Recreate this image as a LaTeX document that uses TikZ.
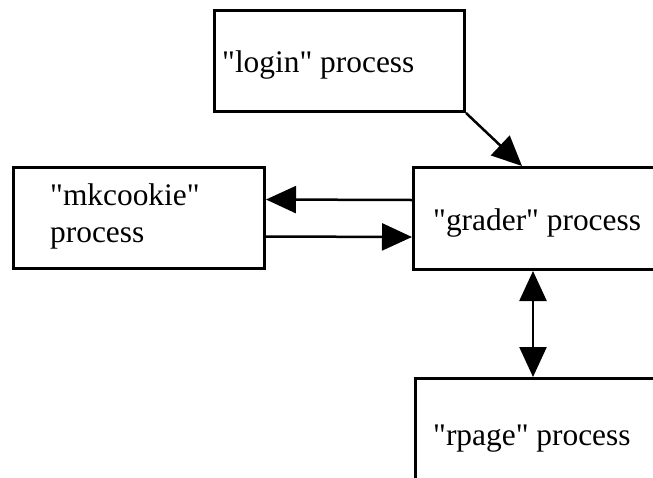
\documentclass[tikz,border=0pt]{standalone}
\usepackage{fontspec}
\setmainfont{Liberation Serif}
\usetikzlibrary{arrows.meta,calc}
% straight double quote, taken directly from the font's glyph table
\newcommand{\dq}{\XeTeXglyph\XeTeXglyphindex "quotedbl"\relax}
\begin{document}
\begin{tikzpicture}[x=1pt,y=-1pt,
  procbox/.style={draw,line width=3pt,rectangle,anchor=north west,inner sep=0pt},
  proctext/.style={anchor=base west,inner sep=0pt,font=\fontsize{31.4}{37}\selectfont,align=left},
  link/.style={line width=2.5pt,-{Triangle[length=30pt,width=27pt]}},
  duplex/.style={line width=2.5pt,{Triangle[length=30pt,width=27pt]}-{Triangle[length=30pt,width=27pt]}}]
  \useasboundingbox (0,0) rectangle (653,477);
  \clip (0,0) rectangle (653,477);
  \fill[white] (0,0) rectangle (653,477);

  % process boxes
  \node[procbox,minimum width=250pt,minimum height=101pt] (login) at (213,9) {};
  \node[procbox,minimum width=251pt,minimum height=101pt] (mkcookie) at (12,166) {};
  \node[procbox,minimum width=270pt,minimum height=102pt] (grader) at (412,166) {};
  \node[procbox,minimum width=270pt,minimum height=130pt] (rpage) at (414,377) {};

  % box captions
  \node[proctext] (logintxt) at (222,72) {\dq login\dq{} process};
  \node[proctext] (mkcookietxt) at (50,205) {\dq mkcookie\dq};
  \node[proctext] (mkcookietxt2) at (50,242) {process};
  \node[proctext] (gradertxt) at (433,230) {\dq grader\dq{} process};
  \node[proctext] (rpagetxt) at (433,445) {\dq rpage\dq{} process};

  % connection points
  \coordinate (gradertop) at ($(grader.north west)+(110pt,0)$);
  \coordinate (graderbot) at ($(grader.south west)+(121pt,0)$);
  \coordinate (rpagetop) at (graderbot |- rpage.north);

  % connectors
  \draw[link] (login.south east) -- (gradertop);
  \draw[link] ([yshift=18.5pt]grader.west) -- ([yshift=18.5pt]mkcookie.east);
  \draw[link] ([yshift=-18.5pt,xshift=-2pt]mkcookie.east) -- ([yshift=-18.5pt]grader.west);
  \draw[duplex] (graderbot) -- (rpagetop);
\end{tikzpicture}
\end{document}
